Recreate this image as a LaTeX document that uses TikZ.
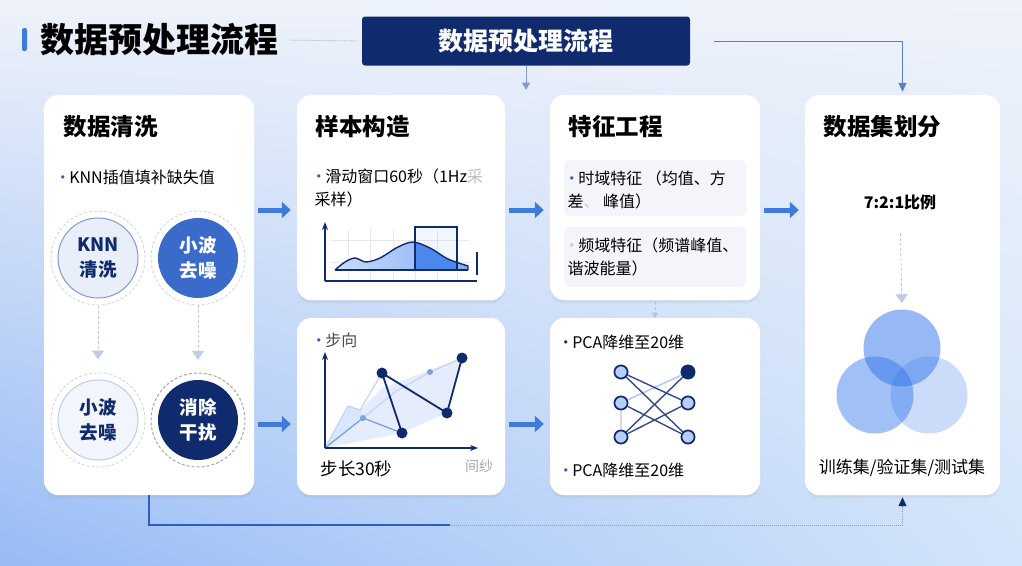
\documentclass[tikz,border=0pt]{standalone}
\usepackage{fontspec}
\setmainfont{Noto Sans CJK SC}
\usetikzlibrary{arrows.meta,positioning,shadows,shadings}

\definecolor{navy}{HTML}{0F2B6E}
\definecolor{midblue}{HTML}{3A6BCB}
\definecolor{flowblue}{HTML}{3F7BDA}
\definecolor{dotblue}{HTML}{2D5FC0}
\definecolor{paleblue}{HTML}{E9EFFA}
\definecolor{ringline}{HTML}{7F9BC9}
\definecolor{vennblue}{HTML}{2F74EC}
\definecolor{boxgray}{HTML}{F3F5FA}
\definecolor{bgtop}{HTML}{EEF2FA}
\definecolor{bgbl}{HTML}{98BBF5}
\definecolor{bgbr}{HTML}{D3E5FA}

\newcommand{\bul}[1][dotblue]{\makebox[.55em][c]{\color{#1}\textbullet}\hspace{2pt}}

\begin{document}
\begin{tikzpicture}[x=1pt,y=-1pt,
  card/.style={rectangle, rounded corners=14pt, fill=white, inner sep=0pt,
    drop shadow={opacity=.10, shadow xshift=0pt, shadow yshift=-3pt}},
  headline/.style={anchor=west, font=\fontsize{23.5}{27}\selectfont\bfseries},
  item/.style={anchor=west, align=left, font=\fontsize{16}{23}\selectfont},
  flow/.style={line width=5pt, color=flowblue, shorten <=4pt, shorten >=6pt,
    -{Triangle[length=9pt,width=16pt]}},
  hint/.style={densely dashed, color=gray!45, line width=.8pt,
    -{Triangle[length=9pt,width=12pt,fill=ringline!50,color=ringline!50]}},
  ring/.style={circle, minimum size=80pt, inner sep=0pt, align=center,
    font=\fontsize{18.5}{25}\selectfont\bfseries},
  netnode/.style={circle, minimum size=13pt, inner sep=0pt, draw=navy,
    line width=1.6pt, fill=vennblue!35},
  venn/.style={circle, minimum size=77pt, fill=vennblue}]

\useasboundingbox (0,0) rectangle (1022,565);
\shade[upper left=bgtop, upper right=bgtop, lower left=bgbl, lower right=bgbr]
  (0,0) rectangle (1022,565);

% title and banner
\fill[flowblue, rounded corners=2pt] (22,28) rectangle (27,51);
\node[anchor=west, font=\fontsize{34}{36}\selectfont\bfseries] (title) at (37,40) {数据预处理流程};
\node[fill=navy, rounded corners=3pt, minimum width=328pt, minimum height=49pt,
  text=white, font=\fontsize{25}{28}\selectfont\bfseries] (banner) at (526,41) {数据预处理流程};
\draw[densely dotted, gray!60, line width=.8pt, shorten <=8pt, shorten >=4pt] (title.east) -- (banner.west);

% cards
\node[card, minimum width=210pt, minimum height=400pt] (clean) at (149,295) {};
\node[card, minimum width=208pt, minimum height=205pt] (sample) at (401,197.5) {};
\node[card, minimum width=208pt, minimum height=177pt] (step) at (401,406.5) {};
\node[card, minimum width=210pt, minimum height=205pt] (feature) at (655,197.5) {};
\node[card, minimum width=210pt, minimum height=177pt] (pca) at (655,406.5) {};
\node[card, minimum width=195pt, minimum height=400pt] (split) at (902.5,295) {};

\draw[ringline, line width=1pt, -{Triangle[length=7pt,width=8pt]}]
  (banner.south) -- ++(0,24);
\draw[dotblue!80, line width=1pt, shorten >=3pt, -{Triangle[length=9pt,width=8pt]}]
  ([xshift=24pt]banner.east) -| (split.north);

% flow between columns
\draw[flow] (clean.east |- 0,210) -- (sample.west |- 0,210);
\draw[flow] (clean.east |- 0,424) -- (step.west |- 0,424);
\draw[flow] (sample.east |- 0,210) -- (feature.west |- 0,210);
\draw[flow] (step.east |- 0,424) -- (pca.west |- 0,424);
\draw[flow] (feature.east |- 0,210) -- (split.west |- 0,210);

% bottom return line
\coordinate (turn) at (450,525);
\draw[dotblue, line width=1.2pt] (clean.south) |- (turn);
\draw[densely dotted, dotblue!60, line width=1pt] (turn) -| ([yshift=-12pt]split.south);
\draw[dotblue!70, line width=1pt, shorten >=2pt, -{Triangle[length=9pt,width=8pt,fill=navy,color=navy]}]
  ([yshift=-12pt]split.south) -- (split.south);

% column 1
\node[headline] at (60,127) {数据清洗};
\node[item] at (55,177) {\bul KNN插值填补缺失值};
\node[ring, fill=paleblue, draw=ringline, line width=1pt, text=navy] (knn) at (98,258) {KNN\\清洗};
\node[ring, fill=midblue, text=white] (wave) at (198,258) {小波\\去噪};
\node[ring, fill=paleblue!60, draw=ringline!50, line width=1pt, text=navy] (wave2) at (98,420) {小波\\去噪};
\node[ring, fill=navy, text=white] (denoise) at (198,420) {消除\\干扰};
\foreach \n in {knn,wave,wave2}
  \draw[densely dashed, gray!35, line width=.8pt] (\n) circle (47pt);
\draw[densely dashed, gray!70, line width=1pt] (denoise) circle (47pt);
\draw[hint, shorten <=7pt, shorten >=20pt] (knn.south) -- (wave2.north);
\draw[hint, shorten <=7pt, shorten >=20pt] (wave.south) -- (denoise.north);

% column 2, window
\node[headline] at (312,127) {样本构造};
\node[item] at (311,188) {\bul 滑动窗口60秒（1Hz{\color{gray!50}采}\\采样）};
\foreach \x in {348,370,393,415,437,457}
  \draw[gray!18] (\x,230) -- (\x,281);
\foreach \y in {240,262}
  \draw[gray!18] (330,\y) -- (470,\y);
\def\wave{(335,270) (345,262) (355,258) (366,262) (380,258) (398,247) (413,242) (430,248) (448,259) (468,266)}
\shade[left color=vennblue!25, right color=vennblue!60]
  plot[smooth] coordinates {\wave} -- (468,270) -- cycle;
\begin{scope}
  \clip (415,227) rectangle (457,270);
  \fill[vennblue!85] plot[smooth] coordinates {\wave} -- (468,270) -- cycle;
\end{scope}
\fill[vennblue, opacity=.06] (415,227) rectangle (457,270);
\draw[navy, line width=1.4pt] plot[smooth] coordinates {\wave} -- (468,270);
\draw[navy, line width=1.4pt] (415,270) -- (415,227) -- (457,227) -- (457,270);
\draw[navy, line width=1.3pt] (335,270) -- (468,270);
\draw[navy, line width=1.6pt, -{Stealth[length=8pt]}] (325,281) -- (325,222);
\draw[navy, line width=1.6pt] (325,281) -- (477,281);
\draw[navy, line width=1.4pt] (477,252) -- (477,275);

% column 2, step
\node[item, text=black!70] at (311,340) {\bul 步向};
\fill[vennblue!35, opacity=.35] (325,448) -- (348,406) -- (360,410) -- (382,388) -- (430,370)
  -- (462,358) -- (447,413) -- (402,433) -- cycle;
\fill[vennblue!25, opacity=.4] (325,448) -- (348,406) -- (360,410) -- (363,418) -- cycle;
\draw[vennblue!30, line width=1.2pt] (325,448) -- (348,406) -- (360,410) -- (382,373);
\draw[flowblue!75, line width=1.2pt] (325,448) -- (363,418) -- (402,433);
\draw[vennblue!30, line width=1.2pt] (363,418) -- (395,392) -- (430,372) -- (462,358);
\fill[flowblue!70] (363,418) circle (3pt) (430,372) circle (3pt);
\draw[navy, line width=1.8pt] (402,433) -- (382,373) -- (447,413) -- (462,358);
\foreach \p in {(382,373),(402,433),(447,413),(462,358)}
  \fill[navy] \p circle (5.5pt);
\draw[navy, line width=1.6pt, -{Stealth[length=8pt]}] (325,448) -- (325,352);
\draw[navy, line width=1.6pt, -{Stealth[length=8pt]}] (325,448) -- (478,448);
\node[anchor=west, font=\fontsize{17.5}{20}\selectfont] at (317,469) {步长30秒};
\node[font=\fontsize{14}{16}\selectfont, text=gray!70] at (479,466) {间纱};

% column 3
\node[headline] at (565,127) {特征工程};
\node[fill=boxgray, rounded corners=6pt, minimum width=182pt, minimum height=56pt] (timebox) at (655,188) {};
\node[fill=boxgray, rounded corners=6pt, minimum width=182pt, minimum height=60pt] (freqbox) at (655,257) {};
\node[item] at (564,190) {\bul 时域特征 （均值、方\\差{\color{gray!40}、} 峰值）};
\node[item] at (564,257) {\bul[gray!40]频域特征（频谱峰值、\\谐波能量）};
\draw[densely dashed, ringline!60, line width=.8pt, -{Triangle[length=5pt,width=6pt]}]
  ([yshift=-2pt]feature.south) -- (pca.north);
\node[item] at (558,342) {\bul[navy]PCA降维至20维};
\node[item] at (558,470) {\bul PCA降维至20维};
\foreach \i/\y in {1/372,2/403,3/437} {
  \node[netnode] (l\i) at (621,\y) {};
  \node[netnode] (r\i) at (688,\y) {};
}
\draw[gray!30, line width=1.4pt] (l2) -- (l3);
\draw[vennblue!40, line width=1.4pt] (l2) -- (r1);
\foreach \i/\j in {1/2,1/3,2/3,3/1,3/2}
  \draw[navy!85, line width=1.4pt] (l\i) -- (r\j);
\foreach \i in {1,2,3}
  \node[netnode] at (l\i) {};
\node[netnode] at (r2) {};
\node[netnode] at (r3) {};
\node[netnode, fill=navy] at (r1) {};

% column 4
\node[headline] at (820,127) {数据集划分};
\node[font=\fontsize{16}{18}\selectfont\bfseries] (ratio) at (900,202) {7:2:1比例};
\node[venn, fill opacity=.5] (train) at (902,348) {};
\node[venn, fill opacity=.45] (valid) at (875,395) {};
\node[venn, fill opacity=.25] (test) at (929,395) {};
\draw[hint, shorten <=20pt, shorten >=6pt] (ratio.south) -- (train.north);
\node[font=\fontsize{17}{19}\selectfont] at (902,468) {训练集/验证集/测试集};

\end{tikzpicture}
\end{document}
